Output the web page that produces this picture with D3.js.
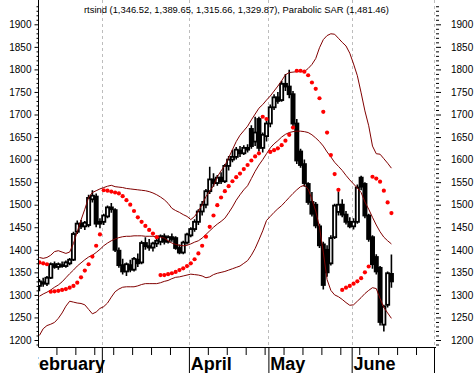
<!DOCTYPE html>
<html><head><meta charset="utf-8">
<script src="https://cdn.jsdelivr.net/npm/d3@7"></script>
<style>
html,body{margin:0;padding:0;background:#fff;}
svg{display:block;font-family:"Liberation Sans",Arial,sans-serif;}
</style></head><body>
<svg id="c" width="475" height="373"></svg>
<script>
// ---------- data ----------
const symbol = "rtsind";
const firstDate = "2006-02-06";
const open  = [1320,1328,1325,1338,1368,1362,1366,1364,1370,1378,1440,1458,1452,1455,1512,1518,1458,1462,1474,1494,1488,1398,1366,1352,1366,1356,1378,1372,1415,1408,1405,1414,1418,1430,1418,1428,1426,1404,1394,1416,1432,1446,1462,1485,1500,1530,1556,1548,1560,1552,1586,1600,1606,1620,1614,1626,1668,1640,1690,1626,1652,1680,1716,1738,1732,1768,1762,1745,1680,1618,1590,1546,1506,1500,1452,1412,1400,1370,1428,1484,1500,1478,1462,1452,1462,1560,1546,1476,1428,1384,1360,1234,1278,1346.52];
const high  = [1335,1338,1342,1372,1374,1372,1374,1376,1382,1440,1465,1466,1464,1522,1532,1525,1470,1480,1498,1504,1492,1405,1380,1372,1378,1384,1392,1420,1428,1424,1418,1426,1434,1436,1432,1436,1430,1412,1420,1438,1450,1468,1490,1508,1535,1584,1570,1566,1572,1590,1608,1622,1628,1630,1632,1634,1676,1695,1695,1660,1686,1722,1745,1750,1775,1790,1799,1752,1690,1624,1600,1550,1528,1506,1458,1418,1410,1432,1502,1529,1512,1486,1472,1470,1545,1564,1550,1480,1432,1390,1364,1278,1352,1389.65];
const low   = [1308,1318,1320,1335,1358,1356,1360,1360,1366,1375,1435,1446,1444,1450,1505,1450,1448,1455,1470,1482,1395,1360,1345,1342,1350,1352,1362,1368,1400,1398,1396,1406,1410,1412,1414,1418,1400,1390,1390,1412,1428,1440,1455,1476,1492,1524,1540,1542,1546,1548,1576,1594,1600,1606,1610,1616,1624,1630,1618,1616,1640,1672,1710,1724,1728,1752,1736,1674,1590,1582,1540,1500,1474,1448,1404,1312,1340,1365,1424,1476,1472,1456,1448,1445,1458,1532,1470,1418,1358,1345,1232,1219,1272,1315.66];
const close = [1330,1325,1338,1368,1362,1368,1364,1372,1378,1435,1458,1452,1460,1515,1520,1458,1462,1476,1494,1490,1400,1366,1352,1368,1356,1380,1370,1415,1408,1405,1414,1420,1430,1418,1428,1424,1404,1394,1416,1434,1446,1462,1485,1500,1530,1556,1548,1560,1552,1586,1600,1606,1622,1614,1626,1622,1630,1660,1626,1655,1680,1716,1738,1730,1768,1762,1745,1680,1598,1588,1548,1506,1480,1454,1410,1322,1350,1426,1498,1500,1478,1462,1452,1462,1538,1540,1476,1424,1368,1352,1240,1274,1348,1329.87];
const sar   = [1372,1370,1368,1307,1308,1309,1311,1313,1316,1320,1327,1339,1354,1368,1385,1409,1434,1532,1531,1529,1527,1525,1519,1510,1500,1486,1472,1462,1453,1444,1436,1428,1344,1344,1346,1348,1351,1355,1359,1364,1370,1379,1392,1409,1429,1451,1476,1499,1516,1530,1541,1552,1561,1569,1579,1588,1598,1607,1614,1695,1690,1617,1621,1625,1632,1642,1655,1671,1797,1797,1795,1787,1771,1757,1736,1706,1660,1610,1568,1533,1311,1316,1320,1325,1330,1337,1350,1363,1562,1558,1551,1531,1505,1481.46];
const bbUpper  = [1383,1381,1383,1388,1396,1398,1395,1392,1395,1414,1440,1466,1490,1516,1527,1531,1535,1538,1541,1543,1540,1539,1538,1536,1535,1534,1533,1532,1531,1529,1526,1522,1517,1511,1503,1492,1487,1483,1478,1474,1467,1474,1486,1500,1518,1530,1542,1562,1575,1587,1604,1622,1640,1654,1664,1674,1688,1701,1714,1722,1732,1741,1752,1763,1775,1788,1793,1794,1795,1795,1795,1802,1811,1824,1848,1866,1875,1879,1878,1869,1860,1852,1836,1812,1786,1748,1708,1675,1630,1613,1612,1602,1592,1581];
const bbMiddle = [1297,1302,1306,1311,1317,1322,1329,1338,1347,1355,1364,1371,1378,1384,1388,1394,1401,1409,1415,1420,1424,1427,1429,1430,1430,1431,1431,1431,1430,1430,1430,1429,1428,1426,1420,1415,1412,1410,1409,1410,1413,1417,1420,1426,1434,1442,1450,1457,1463,1470,1482,1495,1510,1522,1533,1542,1558,1574,1588,1600,1613,1626,1635,1642,1650,1656,1660,1662,1663,1663,1662,1660,1655,1648,1640,1630,1617,1606,1594,1585,1576,1565,1555,1546,1537,1527,1506,1490,1472,1455,1440,1428,1420,1413];
const bbLower  = [1210,1225,1232,1235,1239,1248,1260,1275,1286,1284,1282,1281,1278,1268,1258,1262,1270,1274,1282,1295,1307,1313,1317,1318,1318,1318,1320,1323,1325,1325,1325,1325,1327,1330,1332,1336,1339,1340,1342,1344,1346,1345,1344,1342,1338,1340,1345,1348,1350,1352,1355,1358,1361,1364,1370,1376,1388,1403,1422,1442,1465,1474,1483,1491,1498,1507,1516,1525,1533,1540,1543,1535,1512,1486,1450,1395,1334,1310,1300,1296,1290,1283,1277,1278,1286,1294,1303,1310,1316,1314,1292,1272,1260,1248];
const yTickValues = [1200,1250,1300,1350,1400,1450,1500,1550,1600,1650,1700,1750,1800,1850,1900];
const monthStarts = ["2006-02-01","2006-03-01","2006-04-03","2006-05-02","2006-06-01"];
const monthLabels = ["February","","April","May","June"];
const axisEndDate = "2006-07-03";

// ---------- helpers ----------
const parse = d3.timeParse("%Y-%m-%d");
const t0 = parse(firstDate);
function wdIndex(ds){ // weekday index relative to first date
  const d = parse(ds);
  const isWd = x => x.getDay()!==0 && x.getDay()!==6;
  if (d >= t0) return d3.timeDay.range(t0, d).filter(isWd).length;
  return -d3.timeDay.range(d, t0).filter(isWd).length;
}
const nDomain = wdIndex(axisEndDate) - 0.25;

const W=475,H=373;
const plotL=38.5, plotR=434, plotB=347;
const x = d3.scaleLinear().domain([0,nDomain]).range([37.5,434]);
const y = d3.scaleLinear().domain([1200,1900]).range([340,24.3]);

const svg = d3.select("#c");
svg.append("rect").attr("width",W).attr("height",H).attr("fill","#fff");
const defs = svg.append("defs");
defs.append("clipPath").attr("id","plotclip").append("rect")
  .attr("x",plotL).attr("y",0).attr("width",plotR-plotL+1).attr("height",plotB);
defs.append("clipPath").attr("id","monthclip").append("rect")
  .attr("x",plotL).attr("y",plotB).attr("width",W-plotL).attr("height",H-plotB);

const mIdx = monthStarts.map(wdIndex);
const mondays = d3.timeMonday.range(parse(firstDate), parse(axisEndDate))
  .map(d=>wdIndex(d3.timeFormat("%Y-%m-%d")(d))).filter(i=>i>0 && !mIdx.includes(i));

// grid lines (dashed)
const grid = svg.append("g").attr("stroke","#bdbdbd").attr("stroke-dasharray","3,3").attr("stroke-width",1);
mIdx.filter(i=>i>0).forEach(i=>{
  grid.append("line").attr("x1",Math.round(x(i))+0.5).attr("x2",Math.round(x(i))+0.5).attr("y1",0).attr("y2",plotB);
});
grid.append("line").attr("x1",plotR+0.5).attr("x2",plotR+0.5).attr("y1",0).attr("y2",plotB);

const plot = svg.append("g").attr("clip-path","url(#plotclip)");
const data = open.map((o,i)=>({i,o,h:high[i],l:low[i],c:close[i]}));
const xc = i => x(i+0.5);

// candles
plot.append("g").selectAll("line").data(data).join("line")
  .attr("x1",d=>xc(d.i)).attr("x2",d=>xc(d.i))
  .attr("y1",d=>y(d.h)).attr("y2",d=>y(d.l))
  .attr("stroke","#000").attr("stroke-width",1.6);
plot.append("g").selectAll("rect").data(data).join("rect")
  .attr("x",d=>xc(d.i)-1.6).attr("width",3.2)
  .attr("y",d=>y(Math.max(d.o,d.c)))
  .attr("height",d=>Math.max(0.5,Math.abs(y(d.o)-y(d.c))))
  .attr("fill",d=>d.c>=d.o?"#fff":"#000")
  .attr("stroke","#000").attr("stroke-width",1.8);

// Bollinger bands
const line = arr => d3.line().x((v,i)=>xc(i)).y(v=>y(v))(arr);
[bbUpper,bbMiddle,bbLower].forEach(arr=>{
  plot.append("path").attr("d",line(arr)).attr("fill","none")
    .attr("stroke","#800000").attr("stroke-width",1);
});

// Parabolic SAR
plot.append("g").selectAll("circle").data(sar).join("circle")
  .attr("cx",(v,i)=>xc(i)).attr("cy",v=>y(v)).attr("r",2.1).attr("fill","#ff0000");

// left axis
const minorVals = d3.range(1190,1951,10).filter(v=>v%50!==0);
const axL = svg.append("g").attr("transform",`translate(${plotL},0)`);
axL.call(d3.axisLeft(y).tickValues(yTickValues).tickSize(4).tickPadding(3).tickFormat(d3.format("d")));
axL.call(g=>g.select(".domain").remove());
const axLm = svg.append("g").attr("transform",`translate(${plotL},0)`);
axLm.call(d3.axisLeft(y).tickValues(minorVals.filter(v=>y(v)>=0&&y(v)<=plotB)).tickSize(2).tickFormat(""));
axLm.call(g=>g.select(".domain").remove());
svg.append("line").attr("x1",plotL).attr("x2",plotL).attr("y1",0).attr("y2",plotB).attr("stroke","#000");

// right axis
const axR = svg.append("g").attr("transform",`translate(${plotR+2},0)`);
axR.call(d3.axisRight(y).tickValues(yTickValues).tickSize(5).tickPadding(10).tickFormat(d3.format("d")));
axR.call(g=>g.select(".domain").remove());
const axRm = svg.append("g").attr("transform",`translate(${plotR+2},0)`);
axRm.call(d3.axisRight(y).tickValues(minorVals.filter(v=>y(v)>=0&&y(v)<=plotB)).tickSize(3).tickFormat(""));
axRm.call(g=>g.select(".domain").remove());

svg.selectAll(".tick text").attr("font-size",10).attr("font-family","'Liberation Sans',Arial,sans-serif").attr("fill","#000");

// bottom axis
svg.append("line").attr("x1",plotL).attr("x2",plotR+2).attr("y1",plotB+0.5).attr("y2",plotB+0.5).attr("stroke","#000");
const axB = svg.append("g").attr("transform",`translate(0,${plotB})`);
axB.call(d3.axisBottom(x).tickValues(mondays).tickSize(8).tickFormat(""));
axB.call(g=>g.select(".domain").remove());
const axBm = svg.append("g").attr("transform",`translate(0,${plotB})`);
axBm.call(d3.axisBottom(x).tickValues(mIdx.filter(i=>i>0).concat([nDomain])).tickSize(26).tickFormat(""));
axBm.call(g=>g.select(".domain").remove());

// month labels
const ml = svg.append("g").attr("clip-path","url(#monthclip)");
monthLabels.forEach((lab,k)=>{
  if(!lab) return;
  ml.append("text").attr("x",x(mIdx[k])+1.8).attr("y",369.5)
    .attr("font-size",18).attr("font-weight","bold").attr("fill","#000").text(lab);
});

// title
const f = d3.format(",.2f");
const n = close.length-1;
svg.append("text").attr("x",84).attr("y",12.5).attr("font-size",9.4).attr("fill","#000")
  .text(`${symbol} (${f(open[n])}, ${f(high[n])}, ${f(low[n])}, ${f(close[n])}), Parabolic SAR (${f(sar[n])})`);
</script>
</body></html>
